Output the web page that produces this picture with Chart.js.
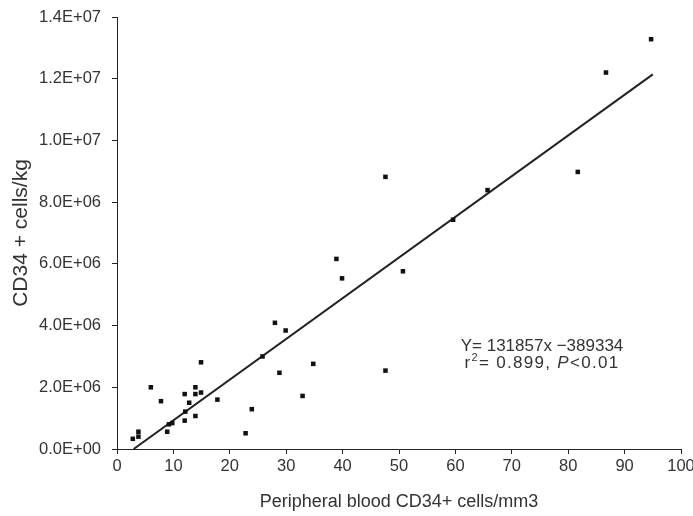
<!DOCTYPE html>
<html>
<head>
<meta charset="utf-8">
<script src="https://cdn.jsdelivr.net/npm/chart.js@4"></script>
<style>
    html, body { margin: 0; padding: 0; background: #fff; }
    #wrap { width: 693px; height: 516px; }
</style>
</head>
<body>
<div id="wrap"><canvas id="chart" width="693" height="516"></canvas></div>
<script>
// Data
const pbCD34 = [2.8, 3.8, 3.8, 6.0, 7.8, 8.9, 9.2, 9.8, 12.0, 12.0, 12.1, 12.8,
    13.9, 13.9, 13.9, 14.9, 14.9, 17.8, 22.8, 23.9, 25.8, 28.0, 28.8, 29.9,
    32.9, 34.8, 38.9, 39.9, 47.6, 47.6, 50.7, 59.6, 65.7, 81.7, 86.7, 94.7];
const cellsPerKg = [0.33e6, 0.56e6, 0.40e6, 2.00e6, 1.55e6, 0.56e6, 0.80e6, 0.84e6,
    1.78e6, 0.92e6, 1.21e6, 1.50e6, 2.00e6, 1.78e6, 1.07e6, 2.81e6, 1.83e6, 1.60e6,
    0.51e6, 1.29e6, 3.00e6, 4.09e6, 2.47e6, 3.84e6, 1.72e6, 2.76e6, 6.16e6, 5.53e6,
    8.82e6, 2.54e6, 5.76e6, 7.43e6, 8.39e6, 8.98e6, 12.20e6, 13.28e6];

// Regression line end points
const fitX = [2.95, 95];
const fitY = [0, 12.14e6];

const xTicks = [0, 10, 20, 30, 40, 50, 60, 70, 80, 90, 100];
const yTicks = [0, 2e6, 4e6, 6e6, 8e6, 10e6, 12e6, 14e6];

const eqLine1 = 'Y= 131857x \u2212389334';
const eqR2 = '0.899';
const eqP = '<0.01';

const FONT = "'Liberation Sans', Arial, sans-serif";
const INK = '#222';
const TEXT = '#333';

// E-notation like the spreadsheet labels: 1.4E+07
function sciLabel(v) {
    const [m, e] = Number(v).toExponential(1).split('e');
    const n = parseInt(e, 10);
    return m + 'E' + (n < 0 ? '-' : '+') + String(Math.abs(n)).padStart(2, '0');
}

// Equation text box
const equationPlugin = {
    id: 'equation',
    afterDraw(chart) {
        const { ctx, chartArea } = chart;
        const cx = chartArea.left + 425;
        const y1 = chartArea.top + 334;
        const y2 = y1 + 17;
        ctx.save();
        ctx.fillStyle = TEXT;
        ctx.textBaseline = 'alphabetic';
        ctx.font = "17px " + FONT;
        ctx.textAlign = 'center';
        ctx.fillText(eqLine1, cx, y1);

        // second line: r² = 0.899, P<0.01
        ctx.textAlign = 'left';
        if ('letterSpacing' in ctx) ctx.letterSpacing = '1.3px';
        const big = "17px " + FONT;
        const small = "11px " + FONT;
        const ital = "italic 17px " + FONT;
        const parts = [
            { t: 'r', f: big, dy: 0 },
            { t: '2', f: small, dy: -7 },
            { t: '= ' + eqR2 + ', ', f: big, dy: 0 },
            { t: 'P', f: ital, dy: 0 },
            { t: eqP, f: big, dy: 0 }
        ];
        let total = 0;
        parts.forEach(p => { ctx.font = p.f; p.w = ctx.measureText(p.t).width; total += p.w; });
        let x = cx - total / 2;
        parts.forEach(p => {
            ctx.font = p.f;
            ctx.fillText(p.t, x, y2 + p.dy);
            x += p.w;
        });
        ctx.restore();
    }
};

const ctx = document.getElementById('chart').getContext('2d');
new Chart(ctx, {
    type: 'scatter',
    data: {
        datasets: [
            {
                label: 'Patients',
                data: pbCD34.map((x, i) => ({ x: x, y: cellsPerKg[i] })),
                pointStyle: 'rect',
                pointRadius: 3.2,
                borderWidth: 0,
                backgroundColor: '#111',
                borderColor: '#111'
            },
            {
                label: 'Fit',
                type: 'line',
                data: fitX.map((x, i) => ({ x: x, y: fitY[i] })),
                borderColor: '#222',
                borderWidth: 2,
                pointRadius: 0,
                fill: false
            }
        ]
    },
    options: {
        responsive: false,
        animation: false,
        layout: { padding: { top: 17, right: 12, left: 0, bottom: 0 } },
        plugins: {
            legend: { display: false },
            tooltip: { enabled: false }
        },
        scales: {
            x: {
                type: 'linear',
                min: xTicks[0],
                max: xTicks[xTicks.length - 1],
                afterBuildTicks: s => { s.ticks = xTicks.map(v => ({ value: v })); },
                afterFit: s => { s.height = 67; s.paddingRight = 0; s.paddingLeft = 0; },
                grid: { drawOnChartArea: false, drawTicks: true, tickLength: 5, color: INK },
                border: { color: INK, width: 1 },
                ticks: {
                    padding: 3,
                    color: TEXT,
                    font: { family: FONT, size: 16.5 },
                    maxRotation: 0
                },
                title: {
                    display: true,
                    text: 'Peripheral blood CD34+ cells/mm3',
                    color: TEXT,
                    font: { family: FONT, size: 18 },
                    padding: { top: 0, bottom: 3 }
                }
            },
            y: {
                type: 'linear',
                min: yTicks[0],
                max: yTicks[yTicks.length - 1],
                afterBuildTicks: s => { s.ticks = yTicks.map(v => ({ value: v })); },
                afterFit: s => { s.width = 117; s.paddingTop = 0; s.paddingBottom = 0; },
                grid: { drawOnChartArea: false, drawTicks: true, tickLength: 5, color: INK },
                border: { color: INK, width: 1 },
                ticks: {
                    padding: 11,
                    color: TEXT,
                    font: { family: FONT, size: 16.5 },
                    callback: v => sciLabel(v)
                },
                title: {
                    display: true,
                    text: 'CD34 + cells/kg',
                    color: TEXT,
                    font: { family: FONT, size: 21 },
                    padding: { top: 9, bottom: 0 }
                }
            }
        }
    },
    plugins: [equationPlugin]
});
</script>
</body>
</html>
